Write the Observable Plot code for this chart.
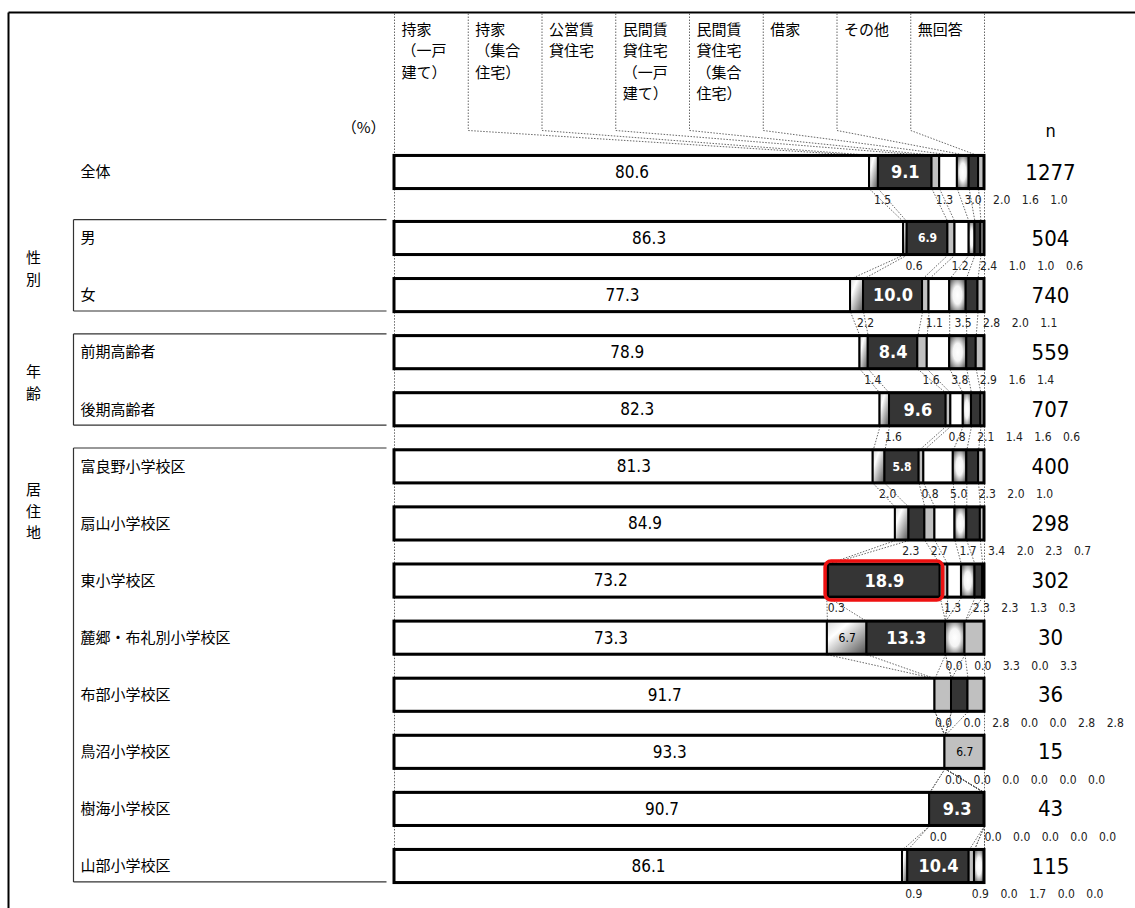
<!DOCTYPE html>
<html><head><meta charset="utf-8">
<script src="https://cdn.jsdelivr.net/npm/d3@7"></script>
<script src="https://cdn.jsdelivr.net/npm/@observablehq/plot@0.6"></script>
<style>
body{margin:0;background:#fff;}
#chart svg{display:block;}
</style>
</head><body><div id="chart"></div>
<script>
// ---------- data ----------
const categories = ["持家（一戸建て）","持家（集合住宅）","公営賃貸住宅","民間賃貸住宅（一戸建て）","民間賃貸住宅（集合住宅）","借家","その他","無回答"];
const headerLabels = ["持家\n（一戸\n建て）","持家\n（集合\n住宅）","公営賃\n貸住宅","民間賃\n貸住宅\n（一戸\n建て）","民間賃\n貸住宅\n（集合\n住宅）","借家","その他","無回答"];
const rowLabels = ["全体","男","女","前期高齢者","後期高齢者","富良野小学校区","扇山小学校区","東小学校区","麓郷・布礼別小学校区","布部小学校区","鳥沼小学校区","樹海小学校区","山部小学校区"];
const nValues = [1277,504,740,559,707,400,298,302,30,36,15,43,115];
const shares = [
  [80.6,1.5,9.1,1.3,3.0,2.0,1.6,1.0],
  [86.3,0.6,6.9,1.2,2.4,1.0,1.0,0.6],
  [77.3,2.2,10.0,1.1,3.5,2.8,2.0,1.1],
  [78.9,1.4,8.4,1.6,3.8,2.9,1.6,1.4],
  [82.3,1.6,9.6,0.8,2.1,1.4,1.6,0.6],
  [81.3,2.0,5.8,0.8,5.0,2.3,2.0,1.0],
  [84.9,2.3,2.7,1.7,3.4,2.0,2.3,0.7],
  [73.2,0.3,18.9,1.3,2.3,2.3,1.3,0.3],
  [73.3,6.7,13.3,0.0,0.0,3.3,0.0,3.3],
  [91.7,0.0,0.0,2.8,0.0,0.0,2.8,2.8],
  [93.3,0.0,0.0,0.0,0.0,0.0,0.0,6.7],
  [90.7,0.0,9.3,0.0,0.0,0.0,0.0,0.0],
  [86.1,0.9,10.4,0.9,0.0,1.7,0.0,0.0]
];
const groupLabels = ["性\n別","年\n齢","居\n住\n地"];
const groupRows = [[1,2],[3,4],[5,12]];
const highlight = {row:"東小学校区", category:"公営賃貸住宅"};

// ---------- layout helpers ----------
const fills = ["#ffffff","url(#g2)","#353535","#c0c0c0","#ffffff","url(#g6)","#353535","#c0c0c0"];
const XR = [394, 984], YD = 12.156, YR = [172, 866];
const X = p => (p - XR[0]) / (XR[1] - XR[0]) * 100;      // pixel -> x units
const Y = p => (p - YR[0]) / (YR[1] - YR[0]) * YD;       // pixel -> y units
const slot = i => i === 0 ? 0 : i + 0.156;
const bh = 0.29;
const numFont = "'Liberation Sans Narrow','DejaVu Sans Condensed','Noto Sans CJK JP',sans-serif";

const segs = [];
rowLabels.forEach((r, i) => {
  const vals = shares[i], tot = d3.sum(vals);
  let c = 0;
  vals.forEach((v, j) => {
    const x1 = c / tot * 100; c += v; const x2 = c / tot * 100;
    segs.push({row: r, i, j, cat: categories[j], v, x1, x2, y: slot(i)});
  });
});
const bounds = i => { const s = segs.filter(d => d.i === i); return [0, ...s.map(d => d.x2)]; };

// leader lines between consecutive rows
const leaders = [];
for (let i = 0; i < rowLabels.length - 1; i++) {
  const a = bounds(i), b = bounds(i + 1);
  a.forEach((xa, k) => leaders.push({x1: xa, y1: slot(i) + bh, x2: b[k], y2: slot(i + 1) - bh}));
}
// header column lines
const b0 = bounds(0);
const headerLines = [];
for (let k = 0; k <= 8; k++) {
  headerLines.push({x1: k * 12.5, y1: Y(13), x2: k * 12.5, y2: Y(130)});
  headerLines.push({x1: k * 12.5, y1: Y(130), x2: b0[k], y2: slot(0) - bh});
}
// outside (small) labels
const outLabels = [];
rowLabels.forEach((r, i) => {
  let prev = -Infinity;
  segs.filter(d => d.i === i && d.j > 0 && d.v < 5.5).forEach(d => {
    const c = (d.x1 + d.x2) / 2;
    const x = Math.max(c, prev + 4.85);
    prev = x;
    outLabels.push({...d, lx: x});
  });
});
const inLabels = segs.filter(d => d.j === 0 || d.v >= 5.5);
const darkIdx = new Set([2, 6]);

// group boxes
const boxLines = [];
groupRows.forEach(([a, b]) => {
  const t = slot(a) - 0.33, btm = slot(b) + 0.27;
  boxLines.push({x1: X(73), y1: t, x2: X(386), y2: t});
  boxLines.push({x1: X(73), y1: t, x2: X(73), y2: btm});
  boxLines.push({x1: X(73), y1: btm, x2: X(386), y2: btm});
});
const groupPos = [ (slot(1)+slot(2))/2, (slot(3)+slot(4))/2, slot(5) + 0.75 ];
const frameLines = [
  {x1: X(8), y1: Y(12), x2: X(1135), y2: Y(12)},
  {x1: X(8), y1: Y(12), x2: X(8), y2: Y(908)}
];

const chart = Plot.plot({
  width: 1135, height: 908, margin: 0,
  x: {domain: [0, 100], range: XR, axis: null},
  y: {domain: [0, YD], range: YR, axis: null},
  color: {domain: categories, range: fills},
  style: {fontFamily: "'Noto Sans CJK JP', sans-serif", fontSize: "14px", background: "#fff", overflow: "visible"},
  marks: [
    Plot.link(frameLines, {x1: "x1", y1: "y1", x2: "x2", y2: "y2", stroke: "#000", strokeWidth: 2}),
    Plot.link(headerLines, {x1: "x1", y1: "y1", x2: "x2", y2: "y2", stroke: "#555", strokeWidth: 0.9, strokeDasharray: "1.5,1.5"}),
    Plot.link(leaders, {x1: "x1", y1: "y1", x2: "x2", y2: "y2", stroke: "#555", strokeWidth: 0.9, strokeDasharray: "1.5,1.5"}),
    Plot.link(boxLines, {x1: "x1", y1: "y1", x2: "x2", y2: "y2", stroke: "#333", strokeWidth: 1.2}),
    Plot.text(headerLabels.map((t, k) => ({t, k})), {x: d => d.k * 12.5, y: Y(19), text: "t", dx: 7, textAnchor: "start", lineAnchor: "top", lineHeight: 1.43, fontSize: 15, fill: "#000"}),
    Plot.text(["（%）"], {x: X(385), y: Y(128), text: d => d, textAnchor: "end", fontSize: 15}),
    Plot.text(["n"], {x: X(1050), y: Y(131), text: d => d, fontSize: 18, fontFamily: numFont}),
    Plot.text(rowLabels.map((r, i) => ({r, i})), {x: X(80), y: d => slot(d.i), text: "r", textAnchor: "start", fontSize: 15}),
    Plot.text(groupLabels.map((g, k) => ({g, k})), {x: X(33), y: d => groupPos[d.k], text: "g", fontSize: 15, lineHeight: 1.45}),
    Plot.rect(segs.filter(d => d.v > 0), {x1: "x1", x2: "x2", y1: d => d.y - bh, y2: d => d.y + bh, fill: "cat", stroke: "#000", strokeWidth: 2}),
    Plot.rect(rowLabels.map((r, i) => ({i})), {x1: 0, x2: 100, y1: d => slot(d.i) - bh, y2: d => slot(d.i) + bh, fill: "none", stroke: "#000", strokeWidth: 3}),
    Plot.rect(segs.filter(d => d.row === highlight.row && d.cat === highlight.category), {x1: "x1", x2: "x2", y1: d => d.y - bh, y2: d => d.y + bh, inset: -3, rx: 6, fill: "none", stroke: "#ee1111", strokeWidth: 3.5}),
    Plot.text(inLabels.filter(d => !darkIdx.has(d.j)), {x: d => (d.x1 + d.x2) / 2, y: "y", text: d => d.v.toFixed(1), fontSize: d => d.j === 0 ? 17 : 12, fill: "#000", fontFamily: numFont, letterSpacing: 1}),
    Plot.text(inLabels.filter(d => darkIdx.has(d.j)), {x: d => (d.x1 + d.x2) / 2, y: "y", text: d => d.v.toFixed(1), fontSize: d => d.v >= 8 ? 18 : 12, fill: "#fff", fontWeight: "bold", fontFamily: numFont, letterSpacing: 1}),
    Plot.text(outLabels, {x: "lx", y: d => d.y + bh, dy: 11, text: d => d.v.toFixed(1), textAnchor: "start", fontSize: 12, fill: "#222", fontFamily: numFont, letterSpacing: 1.5}),
    Plot.text(rowLabels.map((r, i) => ({i, n: nValues[i]})), {x: X(1050), y: d => slot(d.i), text: d => String(d.n), fontSize: 22, fontFamily: numFont})
  ]
});

const defs = document.createElementNS("http://www.w3.org/2000/svg", "defs");
defs.innerHTML = `
<linearGradient id="g2" x1="0" y1="0" x2="1" y2="1">
  <stop offset="0" stop-color="#d8d8d8"/><stop offset="0.3" stop-color="#ffffff"/><stop offset="1" stop-color="#505050"/>
</linearGradient>
<radialGradient id="g6" cx="0.5" cy="0.5" r="0.6">
  <stop offset="0" stop-color="#ffffff"/><stop offset="0.45" stop-color="#f4f4f4"/><stop offset="1" stop-color="#606060"/>
</radialGradient>`;
chart.insertBefore(defs, chart.firstChild);
document.getElementById("chart").appendChild(chart);
</script>
</body></html>
